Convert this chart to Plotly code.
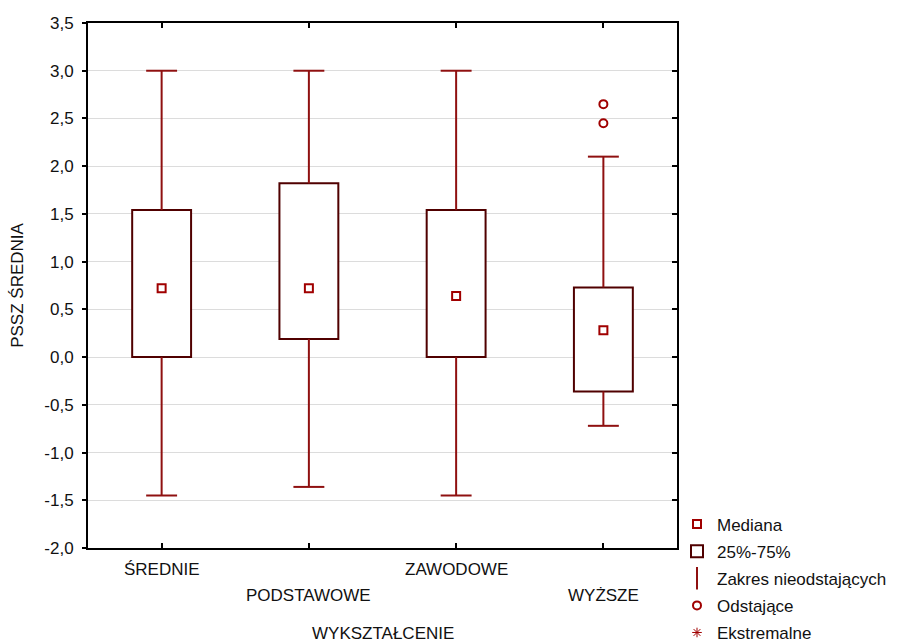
import plotly.graph_objects as go

categories = ["ŚREDNIE", "PODSTAWOWE", "ZAWODOWE", "WYŻSZE"]
upper = [3.0, 3.0, 3.0, 2.10]
q3 = [1.54, 1.82, 1.54, 0.73]
median = [0.72, 0.72, 0.64, 0.28]
q1 = [0.0, 0.19, 0.0, -0.36]
lower = [-1.45, -1.36, -1.45, -0.72]
outlier_cat = [3, 3]
outlier_val = [2.65, 2.45]
y_ticks = [-2.0, -1.5, -1.0, -0.5, 0.0, 0.5, 1.0, 1.5, 2.0, 2.5, 3.0, 3.5]
y_ticklabels = ["-2,0", "-1,5", "-1,0", "-0,5", "0,0", "0,5", "1,0", "1,5", "2,0", "2,5", "3,0", "3,5"]
x_title = "WYKSZTAŁCENIE"
y_title = "PSSZ ŚREDNIA"

BOX_W = 0.4
CAP_HALF = 0.105
WHISK = "#8f1010"
BOXC = "#500000"
MED = "#a00000"
FONT = "Liberation Sans, Arial, sans-serif"
FS = 17

idx = list(range(len(categories)))

fig = go.Figure()

fig.add_trace(go.Bar(
    x=idx, y=[a - b for a, b in zip(q3, q1)], base=q1, width=BOX_W,
    marker=dict(color="white", line=dict(color=BOXC, width=2)),
    name="25%-75%", legendrank=2, legendgroup="g2", hoverinfo="skip",
))

wx, wy = [], []
for i in idx:
    wx += [i, i, None, i, i, None,
           i - CAP_HALF, i + CAP_HALF, None, i - CAP_HALF, i + CAP_HALF, None]
    wy += [q3[i], upper[i], None, q1[i], lower[i], None,
           upper[i], upper[i], None, lower[i], lower[i], None]
fig.add_trace(go.Scatter(
    x=wx, y=wy, mode="lines", line=dict(color=WHISK, width=2),
    showlegend=False, hoverinfo="skip",
))
fig.add_trace(go.Scatter(
    x=[None], y=[None], mode="markers", name="Zakres nieodstających",
    legendrank=3, legendgroup="g3",
    marker=dict(symbol="line-ns", size=18, line=dict(color=WHISK, width=2)),
))
fig.add_trace(go.Scatter(
    x=idx, y=median, mode="markers", name="Mediana", legendrank=1, legendgroup="g1",
    marker=dict(symbol="square-open", size=8, color=MED, line=dict(color=MED, width=2)),
))
fig.add_trace(go.Scatter(
    x=outlier_cat, y=outlier_val, mode="markers", name="Odstające",
    legendrank=4, legendgroup="g4",
    marker=dict(symbol="circle-open", size=8, color=MED, line=dict(color=MED, width=2)),
))
fig.add_trace(go.Scatter(
    x=[None], y=[None], mode="markers", name="Ekstremalne",
    legendrank=5, legendgroup="g5",
    marker=dict(symbol="asterisk-open", size=8, color=MED, line=dict(color=MED, width=1)),
))

for i, lab in enumerate(categories):
    fig.add_annotation(
        x=i, y=0, xref="x", yref="paper", text=lab, showarrow=False,
        yanchor="middle", xanchor="center", yshift=-21 if i % 2 == 0 else -47,
        font=dict(family=FONT, size=FS, color="#111"),
    )
fig.add_annotation(
    x=0.5, y=0, xref="paper", yref="paper", text=x_title, showarrow=False,
    yanchor="middle", xanchor="center", yshift=-85,
    font=dict(family=FONT, size=FS, color="#111"),
)

fig.update_layout(
    width=919, height=643,
    margin=dict(l=88, r=242, t=23, b=95, autoexpand=False),
    paper_bgcolor="white", plot_bgcolor="white",
    font=dict(family=FONT, size=FS, color="#111"),
    showlegend=True,
    legend=dict(x=1.0, xanchor="left", y=0.079, yanchor="top",
                font=dict(family=FONT, size=FS, color="#111"),
                bgcolor="rgba(0,0,0,0)", tracegroupgap=2),
    xaxis=dict(
        range=[-0.5, 3.5], tickvals=idx, showticklabels=False,
        ticks="inside", ticklen=5, tickwidth=2, tickcolor="black",
        showline=True, linecolor="black", linewidth=2, mirror="ticks",
        showgrid=False, zeroline=False,
    ),
    yaxis=dict(
        range=[-2.0, 3.5], tickvals=y_ticks, ticktext=y_ticklabels,
        ticks="outside", ticklen=4, tickwidth=2, tickcolor="black",
        showline=True, linecolor="black", linewidth=2, mirror=True,
        showgrid=True, gridcolor="#dcdcdc", gridwidth=1, zeroline=False,
        ticklabelstandoff=5,
        title=dict(text=y_title, standoff=16,
                   font=dict(family=FONT, size=FS, color="#111")),
    ),
    yaxis2=dict(
        range=[-2.0, 3.5], tickvals=y_ticks, overlaying="y", side="right",
        ticks="inside", ticklen=5, tickwidth=2, tickcolor="black",
        showticklabels=False, showgrid=False, zeroline=False, showline=False,
    ),
)
fig.add_trace(go.Scatter(x=[None], y=[None], yaxis="y2", showlegend=False, hoverinfo="skip"))

fig.write_html("out.html")
